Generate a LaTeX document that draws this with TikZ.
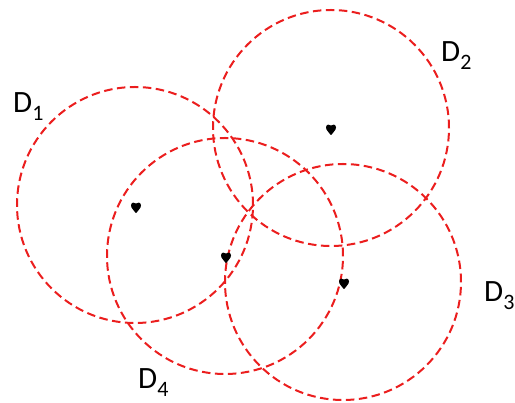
\documentclass[tikz,border=0pt]{standalone}
\usepackage{fontspec}
\setmainfont{Carlito}
\definecolor{dred}{RGB}{235,30,30}
\tikzset{
  zone/.style={circle,draw=dred,dashed,dash pattern=on 8.5pt off 4.5pt,line width=2pt,minimum size=236pt,inner sep=0pt},
  lbl/.style={anchor=base west,inner sep=0pt,font=\fontsize{31}{34}\selectfont},
}
\newcommand{\dsub}[1]{D\raisebox{-7.5pt}{\fontsize{22}{24}\selectfont #1}}
\newcommand{\blob}[1]{\fill[black,shift={(#1)}] (-5,-1.5) .. controls (-5,-5) and (-1,-5) .. (0,-3.5) .. controls (1,-5) and (5,-5) .. (5,-1.5) .. controls (5,1.5) and (1.5,3.5) .. (0.3,6) -- (-0.3,6) .. controls (-1.5,3.5) and (-5,1.5) .. cycle;}
\begin{document}
\begin{tikzpicture}[x=1pt,y=-1pt]
\useasboundingbox (0,0) rectangle (515,403);
\node[zone] (d1) at (135,205) {};
\node[zone] (d2) at (331,128) {};
\node[zone] (d3) at (343,282) {};
\node[zone] (d4) at (225,256) {};
\coordinate (p1) at (136,207);
\coordinate (p2) at (331,129);
\coordinate (p3) at (344,283);
\coordinate (p4) at (226,257);
\blob{p1}\blob{p2}\blob{p3}\blob{p4}
\node[lbl] (l1) at (13,113) {\dsub{1}};
\node[lbl] (l2) at (441,62) {\dsub{2}};
\node[lbl] (l3) at (484,302) {\dsub{3}};
\node[lbl] (l4) at (138,389) {\dsub{4}};
\end{tikzpicture}
\end{document}
